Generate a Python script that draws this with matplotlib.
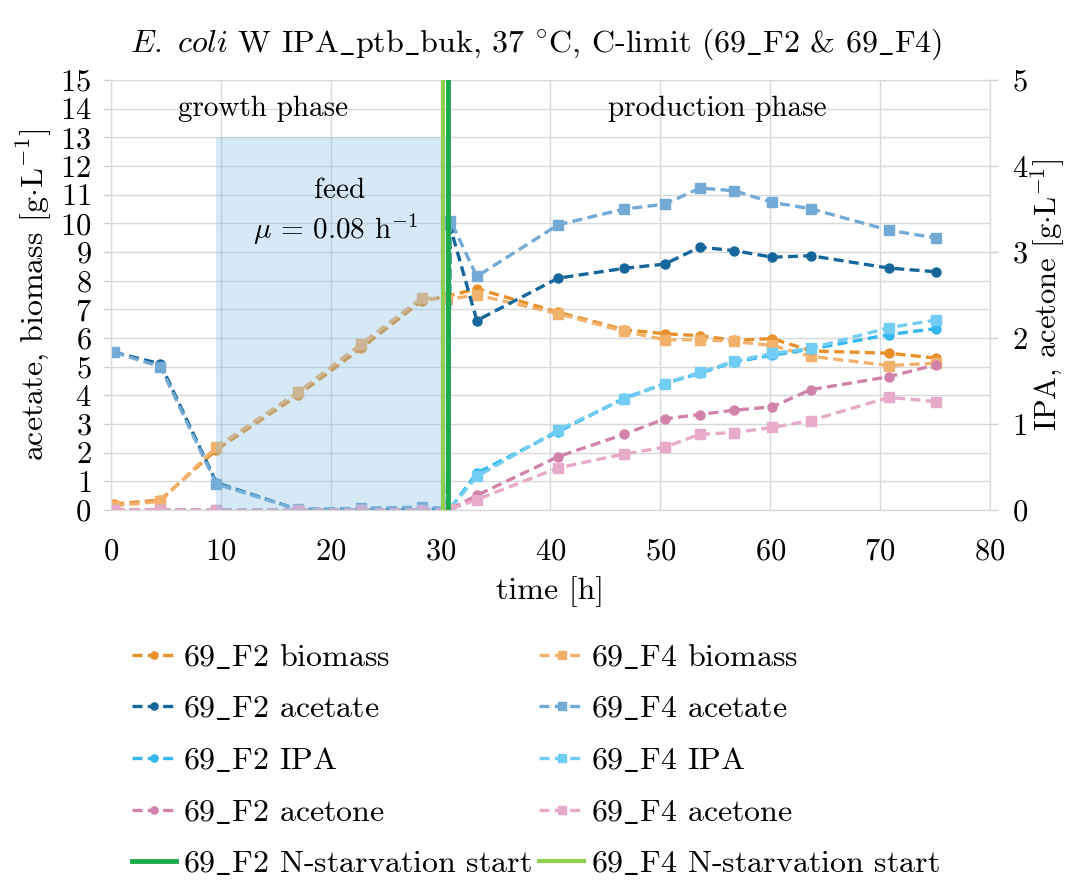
import numpy as np
import matplotlib
matplotlib.use("Agg")
import matplotlib.pyplot as plt

plt.rcParams['font.family'] = ['cmr10', 'DejaVu Serif']
plt.rcParams['mathtext.fontset'] = 'cm'
plt.rcParams['axes.unicode_minus'] = False
plt.rcParams['axes.formatter.use_mathtext'] = True

# sampling times [h]
time = [0.3, 4.5, 9.6, 17.0, 22.8, 28.3, 30.6, 30.9, 33.3, 40.7, 46.7,
        50.4, 53.6, 56.7, 60.2, 63.7, 70.8, 75.1]

# left axis [g/L]  (nan = no value at that time)
f2_biomass = [0.2, 0.35, 2.1, 4.0, 5.65, 7.3, 7.45, np.nan, 7.72, 6.9, 6.29,
              6.15, 6.08, 5.92, 5.98, 5.55, 5.47, 5.3]
f4_biomass = [0.15, 0.3, 2.2, 4.1, 5.8, 7.4, 7.35, np.nan, 7.5, 6.85, 6.23,
              5.94, 5.94, 5.88, 5.74, 5.36, 5.04, 5.12]
f2_acetate = [5.5, 5.1, 0.95, 0.02, 0.03, 0.02, 0.02, 9.85, 6.61, 8.09, 8.43,
              8.58, 9.17, 9.05, 8.82, 8.87, 8.44, 8.31]
f4_acetate = [5.5, 5.0, 0.9, 0.02, 0.06, 0.1, 0.05, 10.1, 8.15, 9.95, 10.5,
              10.67, 11.23, 11.14, 10.73, 10.51, 9.76, 9.49]

# right axis [g/L]
f2_ipa = [0, 0, 0, 0, 0, 0, 0, 0.02, 0.43, 0.91, 1.3, 1.47, 1.59, 1.72, 1.8,
          1.87, 2.04, 2.11]
f4_ipa = [0, 0, 0, 0, 0, 0, 0, 0.02, 0.39, 0.93, 1.29, 1.47, 1.6, 1.73, 1.82,
          1.88, 2.12, 2.21]
f2_acetone = [0, 0, 0, 0, 0, 0, 0, 0.01, 0.17, 0.62, 0.88, 1.06, 1.11, 1.16,
              1.2, 1.4, 1.55, 1.69]
f4_acetone = [0, 0, 0, 0, 0, 0, 0, 0.01, 0.12, 0.49, 0.65, 0.73, 0.88, 0.9,
              0.96, 1.04, 1.31, 1.26]

f2_starvation = 30.7
f4_starvation = 30.25
feed_start, feed_end, feed_top = 9.6, 30.6, 13

fig = plt.figure(figsize=(10.72, 8.8), dpi=100)
ax = fig.add_axes([0.1035, 0.4205, 0.82, 0.4885])
ax2 = ax.twinx()

def dplot(a, y, color, marker, label):
    t = np.array(time)
    y = np.array(y, dtype=float)
    m = ~np.isnan(y)
    return a.plot(t[m], y[m], linestyle=(0, (3, 1.6)), lw=2.4, color=color,
                  marker=marker, ms=6.5, label=label)[0]

h = {}
h['f2b'] = dplot(ax, f2_biomass, '#e8902a', 'o', '69$\\_$F2 biomass')
h['f4b'] = dplot(ax, f4_biomass, '#f2b26c', 's', '69$\\_$F4 biomass')
h['f2a'] = dplot(ax, f2_acetate, '#15679b', 'o', '69$\\_$F2 acetate')
h['f4a'] = dplot(ax, f4_acetate, '#72a9d5', 's', '69$\\_$F4 acetate')
h['f2i'] = dplot(ax2, f2_ipa, '#35b7ef', 'o', '69$\\_$F2 IPA')
h['f4i'] = dplot(ax2, f4_ipa, '#72cdf4', 's', '69$\\_$F4 IPA')
h['f2c'] = dplot(ax2, f2_acetone, '#d182ab', 'o', '69$\\_$F2 acetone')
h['f4c'] = dplot(ax2, f4_acetone, '#e7aac8', 's', '69$\\_$F4 acetone')

h['f4n'] = ax2.axvline(f4_starvation, color='#8fd14f', lw=3, zorder=5,
                       label='69$\\_$F4 N-starvation start')
h['f2n'] = ax2.axvline(f2_starvation, color='#1aab4b', lw=3.5, zorder=6,
                       label='69$\\_$F2 N-starvation start')

# feed shading drawn over the curves
ax2.fill_between([feed_start, feed_end], 0, feed_top / 3, color='#7ebde5',
                 alpha=0.32, lw=0, zorder=4)

ax.set_xlim(0, 80)
ax.set_ylim(0, 15)
ax2.set_ylim(0, 5)
ax.set_xticks(range(0, 81, 10))
ax.set_yticks(range(0, 16))
ax2.set_yticks(range(0, 6))
ax.grid(True, color='#d9d9d9', lw=1)
ax.set_axisbelow(True)
for a in (ax, ax2):
    for s in a.spines.values():
        s.set_color('#d9d9d9')
    a.tick_params(colors='#d0d0d0', labelcolor='black', labelsize=22,
                  length=6, width=1, pad=5)
ax.tick_params(axis='y', pad=8)
ax2.tick_params(axis='y', pad=10)
ax.tick_params(axis='x', length=0, pad=20)

ax.set_xlabel('time [h]', fontsize=23, labelpad=8)
ax.set_ylabel('acetate, biomass [g$\\cdot$L$^{-1}$]', fontsize=23, labelpad=4)
ax2.set_ylabel('IPA, acetone [g$\\cdot$L$^{-1}$]', fontsize=22, labelpad=0)

tk = dict(fontsize=21, ha='center', va='center', zorder=10,
          transform=ax.transData)
ax2.text(13.8, 14.0, 'growth phase', **tk)
ax2.text(55.2, 14.0, 'production phase', **tk)
ax2.text(20.8, 11.15, 'feed', **tk)
ax2.text(20.4, 9.8, '$\\mathrm{\\mu}$ = 0.08 h$^{-1}$', **tk)

fig.suptitle('$\\mathit{E.\\ coli}$ W IPA$\\_$ptb$\\_$buk, 37 $^{\\circ}$C, C-limit (69$\\_$F2 & 69$\\_$F4)',
             fontsize=23, y=0.97)

order = ['f2b', 'f2a', 'f2i', 'f2c', 'f2n', 'f4b', 'f4a', 'f4i', 'f4c', 'f4n']
leg = fig.legend([h[k] for k in order], [h[k].get_label() for k in order],
                 loc='upper left', bbox_to_anchor=(0.096, 0.302), ncol=2,
                 frameon=False, fontsize=23, columnspacing=0.25,
                 labelspacing=0.72, handlelength=1.4, handletextpad=0.2,
                 markerscale=0.8)

fig.savefig('out.png', dpi=100)
